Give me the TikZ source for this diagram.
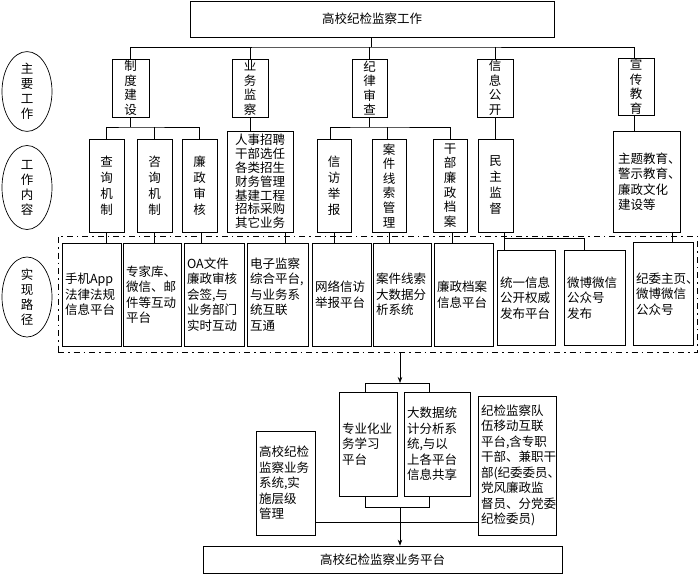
\documentclass[tikz,border=0pt]{standalone}
\usepackage{fontspec}
\setmainfont{Noto Sans CJK SC}
\usetikzlibrary{positioning, shapes.geometric, arrows.meta}
\newcommand{\cjksize}[1]{\fontsize{12.5}{#1}\selectfont\lineskiplimit=-20pt}

\tikzset{
    box/.style={draw, line width=0.7pt, inner sep=0pt, font=\cjksize{15.5}},
    sz/.style 2 args={minimum width=#1, minimum height=#2},
    vbox/.style={box, align=center, font=\cjksize{16}},
    mbox/.style={vbox, font=\cjksize{14.5}},
    tbox/.style={box, align=left, inner xsep=3pt},
    oval/.style={draw, ellipse, line width=0.7pt, inner sep=0pt, align=center,
        minimum width=50pt, font=\cjksize{15}},
    dashbox/.style={draw, line width=0.7pt, dash pattern=on 6pt off 4pt on 1.5pt off 4pt},
    >={Stealth[length=6pt, width=4.5pt]}
}

\begin{document}
\begin{tikzpicture}[x=1pt, y=-1pt, line width=0.7pt]
    \useasboundingbox (0,0) rectangle (700,574);

    % left column
    \node [oval, minimum height=73pt] (e1) at (27, 91.5) {主\\要\\工\\作};
    \node [oval, minimum height=84pt] (e2) at (27, 187.5) {工\\作\\内\\容};
    \node [oval, minimum height=78pt] (e3) at (27, 297) {实\\现\\路\\径};

    % top
    \node [box, sz={364pt}{36pt}] (top) at (372, 19) {高校纪检监察工作};

    % main work
    \node [mbox, sz={37pt}{58pt}] (zd) at (130.5, 88) {制\\度\\建\\设};
    \node [mbox, sz={36pt}{58pt}] (yw) at (250, 88) {业\\务\\监\\察};
    \node [mbox, sz={35pt}{58pt}] (jl) at (369.5, 88) {纪\\律\\审\\查};
    \node [mbox, sz={36pt}{58pt}] (xx) at (495, 88) {信\\息\\公\\开};
    \node [mbox, sz={36pt}{57pt}] (xc) at (636, 86.5) {宣\\传\\教\\育};

    \coordinate (t1) at (371, 47);
    \draw (top.south -| t1) -- (t1);
    \draw (zd.north) |- (t1) -| ([xshift=-2pt]xc.north);
    \draw (yw.north) -- (yw.north |- t1);
    \draw (jl.north) -- (jl.north |- t1);
    \draw (xx.north) -- (xx.north |- t1);

    % work content
    \node [vbox, sz={35pt}{93pt}] (cx) at (106.5, 185.5) {查\\询\\机\\制};
    \node [vbox, sz={35pt}{93pt}] (zx) at (154.5, 185.5) {咨\\询\\机\\制};
    \node [vbox, sz={35pt}{93pt}] (lz) at (199.5, 185.5) {廉\\政\\审\\核};
    \node [box, align=center, font=\cjksize{13.8}, sz={66pt}{101pt}] (rs) at (260, 181.5)
        {人事招聘\\干部选任\\各类招生\\财务管理\\基建工程\\招标采购\\其它业务};
    \node [vbox, sz={34pt}{93pt}] (xf) at (334, 185.5) {信\\访\\举\\报};
    \node [vbox, font=\cjksize{14.6}, sz={34pt}{93pt}] (aj) at (389, 185.5) {案\\件\\线\\索\\管\\理};
    \node [vbox, font=\cjksize{14.6}, sz={34pt}{93pt}] (gb) at (450, 185.5) {干\\部\\廉\\政\\档\\案};
    \node [vbox, sz={35pt}{93pt}] (mz) at (495.5, 185.5) {民\\主\\监\\督};
    \node [tbox, inner xsep=5pt, text width=57pt, sz={67pt}{101pt}] (zt) at (646.5, 181.5)
        {主题教育、\\警示教育、\\廉政文化\\建设等};

    \coordinate (t2) at (130.5, 127);
    \draw (zd.south) -- (t2);
    \draw (cx.north) |- (t2) -| (lz.north);
    \draw (zx.north) -- (zx.north |- t2);
    \coordinate (t3) at (369.5, 127);
    \draw (jl.south) -- (t3);
    \draw ([xshift=-4pt]xf.north) |- (t3) -| (gb.north);
    \draw ([xshift=-2pt]aj.north) -- ([xshift=-2pt]aj.north |- t3);
    \draw (yw.south) -- (yw.south |- rs.north);
    \draw (xx.south) -- (xx.south |- mz.north);
    \draw ([xshift=-2pt]xc.south) -- ([xshift=-2pt]xc.south |- zt.north);

    % ways
    \node [dashbox, sz={639pt}{116pt}] (lj) at (377.5, 294) {};
    \node [tbox, text width=53pt, sz={59pt}{103pt}] (sj) at (91.5, 294.5) {手机App\\法律法规\\信息平台};
    \node [tbox, text width=52pt, sz={58pt}{103pt}] (zj) at (152, 294.5) {专家库、\\微信、邮\\件等互动\\平台};
    \node [tbox, text width=54pt, sz={60pt}{103pt}] (oa) at (214, 294.5) {OA文件\\廉政审核\\会签,与\\业务部门\\实时互动};
    \node [tbox, text width=55pt, sz={61pt}{103pt}] (dz) at (277.5, 294.5) {电子监察\\综合平台,\\与业务系\\统互联\\互通};
    \node [tbox, text width=53pt, sz={59pt}{103pt}] (wl) at (341.5, 294.5) {网络信访\\举报平台};
    \node [tbox, text width=52pt, sz={58pt}{103pt}] (ajx) at (402, 294.5) {案件线索\\大数据分\\析系统};
    \node [tbox, text width=53pt, sz={59pt}{103pt}] (lzd) at (463.5, 294.5) {廉政档案\\信息平台};
    \node [tbox, text width=52pt, sz={58pt}{95pt}] (ty) at (526, 298) {统一信息\\公开权威\\发布平台};
    \node [tbox, text width=55pt, sz={61pt}{95pt}] (wb) at (594.5, 298) {微博微信\\公众号\\发布};
    \node [tbox, text width=54pt, sz={60pt}{103pt}] (jw) at (663, 294) {纪委主页、\\微博微信\\公众号};

    \draw (cx.south) -- (cx.south |- sj.north);
    \draw (zx.south) -- (zx.south |- zj.north);
    \draw ([xshift=2pt]lz.south) -- ([xshift=2pt]lz.south |- oa.north);
    \draw ([xshift=25pt]rs.south) -- ([xshift=25pt]rs.south |- dz.north);
    \draw (xf.south) -- (xf.south |- wl.north);
    \draw (aj.south) -- (aj.south |- ajx.north);
    \draw ([xshift=2pt]gb.south) -- ([xshift=2pt]gb.south |- lzd.north);
    \coordinate (t4) at (504, 238);
    \draw (mz.south -| t4) -- (t4 |- ty.north);
    \draw (t4) -| ([xshift=-10.5pt]wb.north);
    \draw ([xshift=25.5pt]zt.south) -- ([xshift=25.5pt]zt.south |- jw.north);

    % platform
    \node [tbox, text width=52pt, sz={58pt}{104pt}] (zy) at (368, 444) {专业化业\\务学习\\平台};
    \node [tbox, text width=60pt, sz={66pt}{104pt}] (ds) at (437, 444) {大数据统\\计分析系\\统,与以\\上各平台\\信息共享};
    \node [tbox, text width=53pt, sz={59pt}{104pt}] (gx) at (285.5, 483) {高校纪检\\监察业务\\系统,实\\施层级\\管理};
    \node [tbox, text width=72pt, sz={78pt}{139pt}] (dw) at (517, 465.5)
        {纪检监察队\\伍移动互联\\平台,含专职\\干部、兼职干\\部(纪委委员、\\党风廉政监\\督员、分党委\\纪检委员)};
    \node [box, sz={359pt}{27pt}] (pt) at (382.5, 559.5) {高校纪检监察业务平台};

    \coordinate (t5) at (400, 383);
    \coordinate (t6) at (400, 507);
    \draw [->] (lj.south -| t5) -- (t5);
    \draw ([xshift=-3pt]zy.north) |- (t5) -| ([xshift=-8pt]ds.north);
    \draw ([xshift=-3pt]zy.south) |- (t6) -| ([xshift=-8pt]ds.south);
    \draw [->] (t6) -- (t6 |- pt.north);
    \draw ([yshift=-39pt]gx.east) -- ([yshift=-39pt]gx.east -| dw.west);
\end{tikzpicture}
\end{document}
